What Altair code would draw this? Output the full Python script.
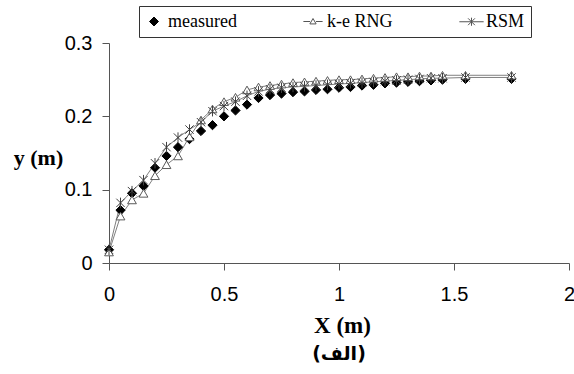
import altair as alt
import pandas as pd

# ---------------- data ----------------
x_vals = [0.0, 0.05, 0.10, 0.15, 0.20, 0.25, 0.30, 0.35, 0.40, 0.45,
          0.50, 0.55, 0.60, 0.65, 0.70, 0.75, 0.80, 0.85, 0.90, 0.95,
          1.00, 1.05, 1.10, 1.15, 1.20, 1.25, 1.30, 1.35, 1.40, 1.45,
          1.55, 1.75]

measured = [0.018, 0.072, 0.095, 0.105, 0.130, 0.146, 0.158, 0.169, 0.180, 0.188,
            0.200, 0.208, 0.216, 0.225, 0.229, 0.231, 0.233, 0.234, 0.236, 0.237,
            0.239, 0.240, 0.242, 0.243, 0.245, 0.246, 0.247, 0.248, 0.249, 0.250,
            0.251, 0.251]

ke_rng = [0.015, 0.064, 0.086, 0.095, 0.119, 0.134, 0.146, 0.172, 0.195, 0.210,
          0.220, 0.226, 0.236, 0.240, 0.242, 0.244, 0.246, 0.247, 0.248, 0.249,
          0.250, 0.250, 0.251, 0.252, 0.253, 0.254, 0.254, 0.255, 0.255, 0.256,
          0.256, 0.256]

rsm = [0.018, 0.082, 0.098, 0.113, 0.136, 0.158, 0.171, 0.182, 0.192, 0.207,
       0.214, 0.220, 0.228, 0.234, 0.237, 0.239, 0.240, 0.241, 0.242, 0.243,
       0.244, 0.245, 0.246, 0.247, 0.248, 0.249, 0.250, 0.251, 0.252, 0.252,
       0.253, 0.253]

series_names = ["measured", "k-e RNG", "RSM"]
x_ticks = [0, 0.5, 1, 1.5, 2]
y_ticks = [0, 0.1, 0.2, 0.3]

rows = []
for name, vals in zip(series_names, [measured, ke_rng, rsm]):
    for xv, yv in zip(x_vals, vals):
        rows.append({"x": xv, "y": yv, "series": name})
df = pd.DataFrame(rows)

# ---------------- styling ----------------
SERIF = "Liberation Serif"
SANS = "Liberation Sans"
AXIS_COL = "#555555"

ASTER = "M-1,-1L1,1M-1,1L1,-1M0,-1.25L0,1.25"
RNG_LEG = "M-1.35,0L-0.42,0M0.42,0L1.35,0M0,-0.42L0.44,0.34L-0.44,0.34Z"
RSM_LEG = "M-1.35,0L1.35,0M-0.38,-0.38L0.38,0.38M-0.38,0.38L0.38,-0.38M0,-0.45L0,0.45"

x_enc = alt.X(
    "x:Q",
    scale=alt.Scale(domain=[0, 2], nice=False),
    axis=alt.Axis(
        values=x_ticks, format="~g", title="X (m)", labelFlush=False,
        titleFont=SERIF, titleFontWeight="bold", titleFontSize=23,
        titleX=233, titleY=62, titleAlign="center", titleBaseline="middle",
        labelPadding=14,
    ),
)
y_enc = alt.Y(
    "y:Q",
    scale=alt.Scale(domain=[0, 0.3], nice=False),
    axis=alt.Axis(
        values=y_ticks, format="~g", title="y (m)", labelFlush=False,
        titleFont=SERIF, titleFontWeight="bold", titleFontSize=22,
        titleAngle=0, titleX=-71, titleY=114, titleAlign="center",
        titleBaseline="middle", labelPadding=10,
    ),
)

lines = (
    alt.Chart(df)
    .transform_filter("datum.series != 'measured'")
    .mark_line(color="#808080", strokeWidth=1)
    .encode(x=x_enc, y=y_enc, detail="series:N")
)

points = (
    alt.Chart(df)
    .mark_point(opacity=1, strokeWidth=1, fillOpacity=1)
    .encode(
        x=x_enc,
        y=y_enc,
        shape=alt.Shape("series:N", scale=alt.Scale(domain=series_names, range=["diamond", "triangle-up", ASTER]), legend=None),
        fill=alt.Fill("series:N", scale=alt.Scale(domain=series_names, range=["black", "white", "transparent"]), legend=None),
        stroke=alt.Stroke("series:N", scale=alt.Scale(domain=series_names, range=["black", "#5a5a5a", "#404040"]), legend=None),
        size=alt.Size("series:N", scale=alt.Scale(domain=series_names, range=[85, 70, 45]), legend=None),
    )
)

leg = alt.Legend(
    orient="none", legendX=30, legendY=-37, direction="horizontal", title=None,
    labelFont=SERIF, labelFontSize=18, labelColor="black",
    strokeColor="#333333", padding=6, columnPadding=64, labelOffset=5,
    symbolStrokeWidth=1,
)

legend_layer = (
    alt.Chart(df)
    .transform_filter("false")
    .mark_point(opacity=1, strokeWidth=1, fillOpacity=1)
    .encode(
        x=x_enc,
        y=y_enc,
        shape=alt.Shape("series:N", scale=alt.Scale(domain=series_names, range=["diamond", RNG_LEG, RSM_LEG]), legend=leg),
        fill=alt.Fill("series:N", scale=alt.Scale(domain=series_names, range=["black", "white", "transparent"]), legend=leg),
        stroke=alt.Stroke("series:N", scale=alt.Scale(domain=series_names, range=["black", "#555555", "#555555"]), legend=leg),
        size=alt.Size("series:N", scale=alt.Scale(domain=series_names, range=[80, 324, 324]), legend=leg),
    )
)

chart = (
    alt.layer(lines, points, legend_layer)
    .resolve_scale(shape="independent", fill="independent", stroke="independent", size="independent")
    .properties(
        width=460,
        height=220,
        autosize=alt.AutoSizeParams(type="none"),
        padding={"left": 109, "top": 43, "right": 5, "bottom": 111},
        title=alt.TitleParams(
            text="(الف)", orient="bottom", anchor="middle", frame="group",
            font="DejaVu Sans", fontWeight="bold", fontSize=19, color="black", offset=8,
        ),
    )
    .configure_view(stroke=None)
    .configure_axis(
        grid=False, domainColor=AXIS_COL, tickColor=AXIS_COL, tickSize=7,
        labelFont=SANS, labelFontSize=20, labelColor="black", titleColor="black",
        domainWidth=1, tickWidth=1,
    )
)

chart.save("out.html", embed_options={"renderer": "svg", "actions": False})
